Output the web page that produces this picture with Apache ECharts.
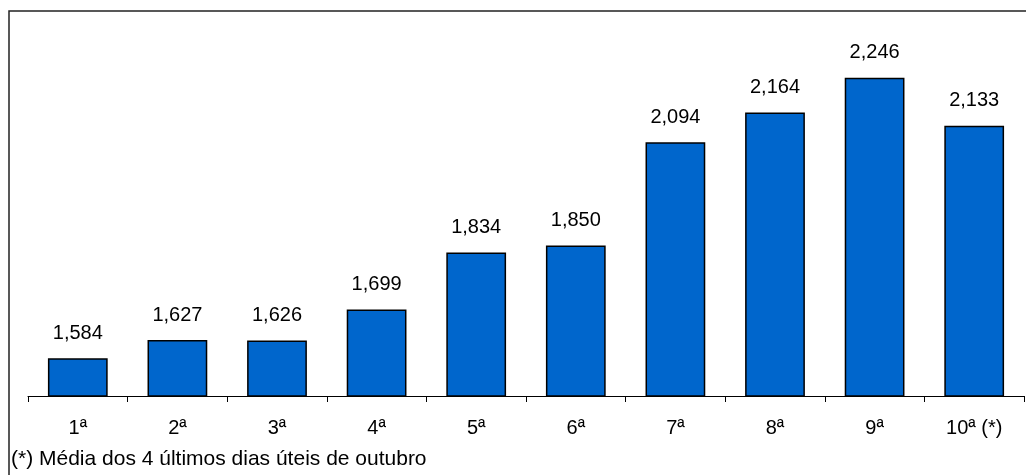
<!DOCTYPE html>
<html>
<head>
<meta charset="utf-8">
<script src="https://cdn.jsdelivr.net/npm/echarts@6/dist/echarts.min.js"></script>
<style>
  html, body { margin: 0; padding: 0; background: #fff; }
  #chart { width: 1026px; height: 475px; }
</style>
</head>
<body>
<div id="chart"></div>
<script>
var weeks = ['1ª', '2ª', '3ª', '4ª', '5ª', '6ª', '7ª', '8ª', '9ª', '10ª (*)'];
var values = [1584, 1627, 1626, 1699, 1834, 1850, 2094, 2164, 2246, 2133];
var footnote = '(*) Média dos 4 últimos dias úteis de outubro';

var chart = echarts.init(document.getElementById('chart'));
var option = {
    animation: false,
    textStyle: { fontFamily: 'Liberation Sans, Arial, sans-serif' },
    graphic: [
        {
            type: 'rect',
            shape: { x: 9, y: 11, width: 1030, height: 480 },
            style: { fill: 'none', stroke: '#222', lineWidth: 1.5 },
            silent: true
        },
        {
            type: 'text',
            left: 11,
            top: 449,
            style: { text: footnote, fill: '#000', font: '21px Liberation Sans, Arial, sans-serif' }
        }
    ],
    grid: { left: 28, right: 2, top: 55, bottom: 79 },
    xAxis: {
        type: 'category',
        data: weeks,
        axisLine: { lineStyle: { color: '#000', width: 1 } },
        axisTick: { show: true, length: 6, lineStyle: { color: '#000' } },
        axisLabel: { color: '#000', fontSize: 20, margin: 22 }
    },
    yAxis: {
        type: 'value',
        min: 1495,
        max: 2300,
        show: false,
        splitLine: { show: false }
    },
    series: [
        {
            type: 'bar',
            data: values,
            barWidth: '60%',
            itemStyle: { color: '#0066CC', borderColor: '#000', borderWidth: 1.5 },
            label: {
                show: true,
                position: 'top',
                distance: 15,
                color: '#000',
                fontSize: 20,
                formatter: function (p) {
                    return p.value.toLocaleString('en-US');
                }
            }
        }
    ]
};
chart.setOption(option);
</script>
</body>
</html>
